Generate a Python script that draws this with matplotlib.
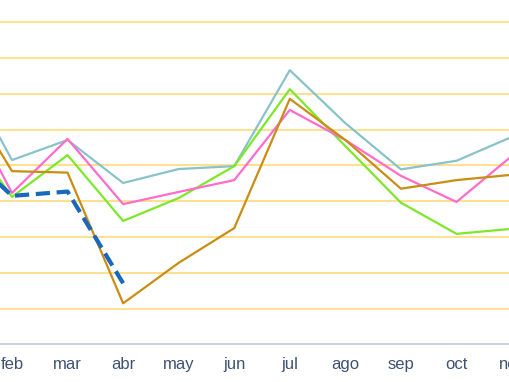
import matplotlib

matplotlib.use("Agg")
import matplotlib.pyplot as plt

months = ["ene", "feb", "mar", "abr", "may", "jun", "jul", "ago", "sep", "oct", "nov", "dic"]

# values (jan estimated from the slope at the left edge)
teal = [8.0, 5.15, 5.71, 4.51, 4.90, 4.98, 7.66, 6.18, 4.89, 5.13, 5.80]
green = [6.3, 4.12, 5.29, 3.45, 4.09, 4.98, 7.13, 5.54, 3.96, 3.09, 3.23]
pink = [7.2, 4.23, 5.74, 3.92, 4.26, 4.59, 6.55, 5.71, 4.71, 3.98, 5.27]
gold = [7.4, 4.84, 4.80, 1.15, 2.28, 3.25, 6.86, 5.71, 4.35, 4.59, 4.74]
blue = [5.6, 4.15, 4.27, 1.71]

fig = plt.figure(figsize=(5.1, 3.82), dpi=100)
# axes runs a little past the right edge so the cut "nov" label still shows
ax = fig.add_axes([0, 0.0982, 530 / 510, 0.9018])

for vals, color in [
    (teal, "#88c3c9"),
    (green, "#7de829"),
    (pink, "#ff6ccb"),
    (gold, "#c98d14"),
]:
    ax.plot(range(len(vals)), vals, color=color, lw=1.6, zorder=3)

ax.plot(range(len(blue)), blue, color="#1a68bd", lw=3, ls=(0, (3.4, 1.6)), zorder=4)

ax.set_yticks(range(1, 10))
ax.yaxis.grid(True, color="#ffe08e", lw=1.4)
ax.set_axisbelow(True)
ax.set_xticks(range(len(months)))
ax.set_xticklabels(months, fontsize=12, color="#3f5272", family="Liberation Sans")
ax.tick_params(axis="x", length=0, pad=9)
ax.tick_params(axis="y", length=0, labelleft=False)
# the view is a crop of the full year: feb near the left edge, nov at the right
ax.set_xlim(0.784, 10.323)
ax.set_ylim(0, 9.62)
for s in ["top", "left", "right"]:
    ax.spines[s].set_visible(False)
ax.spines["bottom"].set_color("#c4cbd6")
ax.spines["bottom"].set_linewidth(1.2)

fig.savefig("out.png", dpi=100)
